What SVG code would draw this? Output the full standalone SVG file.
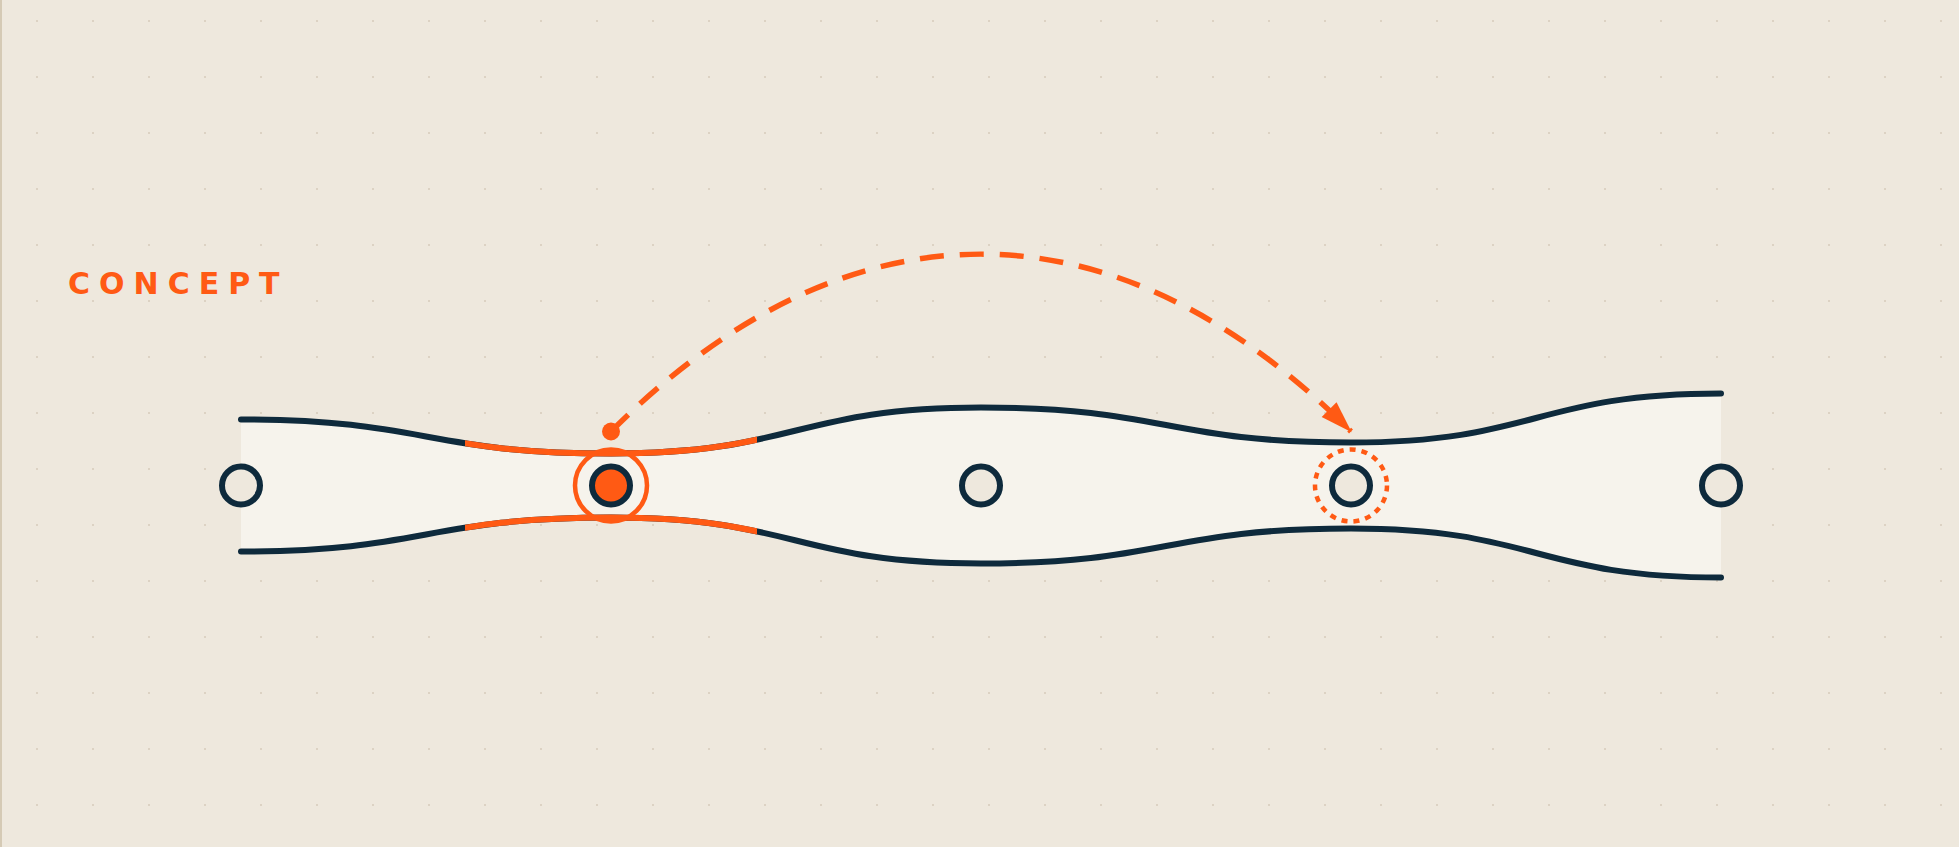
<svg xmlns="http://www.w3.org/2000/svg" width="1959" height="847" viewBox="0 0 1959 847">
  <defs>
    <pattern id="dots" x="9" y="-7" width="56" height="56" patternUnits="userSpaceOnUse">
      <circle cx="28" cy="28" r="1.1" fill="#D7CDBD"/>
    </pattern>
    <clipPath id="hl">
      <rect x="465" y="380" width="292" height="180"/>
    </clipPath>
    <marker id="arrow" markerUnits="userSpaceOnUse" markerWidth="40" markerHeight="30" viewBox="-34 -15 40 30" refX="0" refY="0" orient="auto">
      <path d="M1,0 L-31,-10.5 L-31,10.5 Z" fill="#FF5A14"/>
    </marker>
    <style>
      .edge { fill: none; stroke: #0E2A3C; stroke-width: 6; stroke-linecap: round; }
      .edge-hl { fill: none; stroke: #FF5A14; stroke-width: 6; }
      .node { fill: #EEE8DD; stroke: #0E2A3C; stroke-width: 6; }
      .node-active { fill: #FF5A14; stroke: #0E2A3C; stroke-width: 6; }
      .halo { fill: none; stroke: #FF5A14; stroke-width: 4.5; }
      .halo-dotted { fill: none; stroke: #FF5A14; stroke-width: 4.5; stroke-dasharray: 6 6; }
      .arc { fill: none; stroke: #FF5A14; stroke-width: 5.5; stroke-dasharray: 24 16; }
      .title { font-family: "DejaVu Sans", "Liberation Sans", sans-serif; font-weight: bold; font-size: 30px; letter-spacing: 9px; fill: #FF5A14; }
    </style>
  </defs>

  <rect x="0" y="0" width="1959" height="847" fill="#EEE8DD"/>
  <rect x="0" y="0" width="1959" height="847" fill="url(#dots)"/>
  <rect x="0" y="0" width="2" height="847" fill="#D5CAB5"/>

  <text class="title" x="68" y="293.5">CONCEPT</text>

  <g id="band">
    <path d="M241,419.5 C426,419.5 426,453.5 611,453.5 C796,453.5 796,407.5 981,407.5 C1166,407.5 1166,442.5 1351,442.5 C1536,442.5 1536,393.5 1721,393.5 L1721,577.5 C1536,577.5 1536,528.5 1351,528.5 C1166,528.5 1166,563.5 981,563.5 C796,563.5 796,517.5 611,517.5 C426,517.5 426,551.5 241,551.5 Z" fill="#F6F3EC"/>
    <path id="top-edge" class="edge" d="M241,419.5 C426,419.5 426,453.5 611,453.5 C796,453.5 796,407.5 981,407.5 C1166,407.5 1166,442.5 1351,442.5 C1536,442.5 1536,393.5 1721,393.5"/>
    <path id="bottom-edge" class="edge" d="M241,551.5 C426,551.5 426,517.5 611,517.5 C796,517.5 796,563.5 981,563.5 C1166,563.5 1166,528.5 1351,528.5 C1536,528.5 1536,577.5 1721,577.5"/>
    <g clip-path="url(#hl)">
      <path class="edge-hl" d="M241,419.5 C426,419.5 426,453.5 611,453.5 C796,453.5 796,407.5 981,407.5"/>
      <path class="edge-hl" d="M241,551.5 C426,551.5 426,517.5 611,517.5 C796,517.5 796,563.5 981,563.5"/>
    </g>
  </g>

  <g id="connectors">
    <path class="arc" d="M611,431.5 C847,195 1115,195 1351,431.5" marker-end="url(#arrow)"/>
    <circle cx="611" cy="431.5" r="9" fill="#FF5A14"/>
  </g>

  <g id="node-1">
    <circle class="node" cx="241" cy="485.5" r="19"/>
  </g>
  <g id="node-2">
    <circle class="halo" cx="611" cy="485.5" r="36"/>
    <circle class="node-active" cx="611" cy="485.5" r="19"/>
  </g>
  <g id="node-3">
    <circle class="node" cx="981" cy="485.5" r="19"/>
  </g>
  <g id="node-4">
    <circle class="halo-dotted" cx="1351" cy="485.5" r="36"/>
    <circle class="node" cx="1351" cy="485.5" r="19"/>
  </g>
  <g id="node-5">
    <circle class="node" cx="1721" cy="485.5" r="19"/>
  </g>
</svg>
